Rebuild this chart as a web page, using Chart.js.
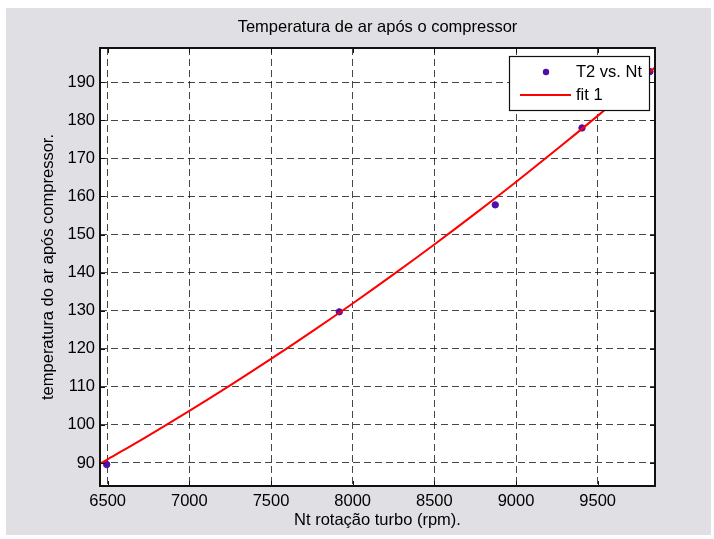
<!DOCTYPE html>
<html>
<head>
<meta charset="utf-8">
<script src="https://cdn.jsdelivr.net/npm/chart.js@4.4.1/dist/chart.umd.min.js"></script>
<style>
  html, body { margin: 0; padding: 0; background: #ffffff; }
  #wrap { width: 714px; height: 539px; }
</style>
</head>
<body>
<div id="wrap"><canvas id="c" width="714" height="539"></canvas></div>
<script>
// ---- data ----
const rpmMeasured = [6494, 7918, 8873, 9404, 9820];
const t2Measured  = [89.6, 129.7, 157.8, 178.0, 192.8];

const fitRpm = [6453, 6500, 6750, 7000, 7250, 7500, 7750, 8000, 8250, 8500, 8750, 9000, 9250, 9500, 9750, 9851];
const fitT2  = [89.8, 90.95, 97.2, 103.68, 110.38, 117.32, 124.5, 131.9, 139.54, 147.4, 155.5, 163.82, 172.38, 181.17, 190.19, 193.9];

const xTicks = [6500, 7000, 7500, 8000, 8500, 9000, 9500];
const yTicks = [90, 100, 110, 120, 130, 140, 150, 160, 170, 180, 190];

const titleText = 'Temperatura de ar após o compressor';
const xLabel = 'Nt rotação turbo (rpm).';
const yLabel = 'temperatura do ar após compressor.';
const seriesLabels = ['T2 vs. Nt', 'fit 1'];

const FONT = 'Liberation Sans, Arial, Helvetica, sans-serif';
const FS = 16.5;

const bgPlugin = {
  id: 'bg',
  beforeDraw(chart) {
    const ctx = chart.ctx, a = chart.chartArea;
    ctx.save();
    ctx.fillStyle = '#ffffff';
    ctx.fillRect(0, 0, chart.width, chart.height);
    ctx.fillStyle = '#dfdfe4';
    ctx.fillRect(6, 8, 705, 527);
    ctx.fillStyle = '#ffffff';
    ctx.fillRect(a.left, a.top, a.right - a.left, a.bottom - a.top);
    ctx.restore();
  }
};

const boxPlugin = {
  id: 'box',
  afterDatasetsDraw(chart) {
    const ctx = chart.ctx, a = chart.chartArea;
    const xs = chart.scales.x, ys = chart.scales.y;
    ctx.save();
    ctx.strokeStyle = '#111';
    ctx.lineWidth = 1;
    const tl = 5;
    ctx.beginPath();
    xTicks.forEach(v => {
      const px = Math.round(xs.getPixelForValue(v)) + 0.5;
      ctx.moveTo(px, a.bottom); ctx.lineTo(px, a.bottom - tl);
      ctx.moveTo(px, a.top); ctx.lineTo(px, a.top + tl);
    });
    yTicks.forEach(v => {
      const py = Math.round(ys.getPixelForValue(v)) + 0.5;
      ctx.moveTo(a.left, py); ctx.lineTo(a.left + tl, py);
      ctx.moveTo(a.right, py); ctx.lineTo(a.right - tl, py);
    });
    ctx.stroke();
    ctx.lineWidth = 2;
    ctx.strokeRect(a.left, a.top, a.right - a.left, a.bottom - a.top);

    // legend
    const lx = 509.5, ly = 56.5, lw = 140, lh = 54;
    ctx.fillStyle = '#ffffff';
    ctx.fillRect(lx, ly, lw, lh);
    ctx.lineWidth = 1.2;
    ctx.strokeStyle = '#111';
    ctx.strokeRect(lx, ly, lw, lh);
    const ds = chart.data.datasets;
    ctx.fillStyle = ds[0].backgroundColor;
    ctx.beginPath();
    ctx.arc(546, 72, 3.2, 0, Math.PI * 2);
    ctx.fill();
    ctx.strokeStyle = ds[1].borderColor;
    ctx.lineWidth = 2;
    ctx.beginPath();
    ctx.moveTo(520, 95); ctx.lineTo(571, 95);
    ctx.stroke();
    ctx.fillStyle = '#000';
    ctx.font = FS + 'px ' + FONT;
    ctx.textBaseline = 'middle';
    ctx.textAlign = 'left';
    ctx.fillText(ds[0].label, 576, 72);
    ctx.fillText(ds[1].label, 576, 95);
    ctx.restore();
  }
};

new Chart(document.getElementById('c'), {
  type: 'scatter',
  data: {
    datasets: [
      {
        label: seriesLabels[0],
        data: rpmMeasured.map((x, i) => ({ x, y: t2Measured[i] })),
        backgroundColor: '#5010a8',
        borderColor: '#5010a8',
        pointRadius: 3.2,
        showLine: false,
        order: 2
      },
      {
        label: seriesLabels[1],
        data: fitRpm.map((x, i) => ({ x, y: fitT2[i] })),
        borderColor: '#ff0000',
        backgroundColor: '#ff0000',
        borderWidth: 2,
        pointRadius: 0,
        showLine: true,
        tension: 0.4,
        order: 1
      }
    ]
  },
  options: {
    responsive: false,
    animation: false,
    devicePixelRatio: 1,
    layout: { padding: { left: 0, right: 59, top: 0, bottom: 0 } },
    plugins: {
      legend: { display: false },
      tooltip: { enabled: false },
      title: {
        display: true,
        text: titleText,
        fullSize: false,
        color: '#000',
        font: { family: FONT, size: FS, weight: 'normal', lineHeight: 1.2 },
        padding: { top: 17.5, bottom: 10.7 }
      }
    },
    scales: {
      x: {
        type: 'linear',
        min: 6453,
        max: 9851,
        afterBuildTicks: s => { s.ticks = xTicks.map(v => ({ value: v })); },
        afterFit: s => { s.height = 53; },
        grid: { display: true, drawOnChartArea: true, drawTicks: false, color: 'rgba(0,0,0,0.72)', lineWidth: 1 },
        border: { display: false, dash: [7, 4] },
        ticks: { color: '#000', padding: 6, font: { family: FONT, size: FS }, maxRotation: 0, autoSkip: false,
                 callback: v => String(v) },
        title: {
          display: true,
          text: xLabel,
          color: '#000',
          font: { family: FONT, size: FS, lineHeight: 1.2 },
          padding: { top: 0, bottom: 9 }
        }
      },
      y: {
        type: 'linear',
        min: 83.95,
        max: 199.0,
        afterBuildTicks: s => { s.ticks = yTicks.map(v => ({ value: v })); },
        afterFit: s => { s.width = 100; },
        grid: { display: true, drawOnChartArea: true, drawTicks: false, color: 'rgba(0,0,0,0.72)', lineWidth: 1 },
        border: { display: false, dash: [7, 4] },
        ticks: { color: '#000', padding: 5, font: { family: FONT, size: FS }, autoSkip: false,
                 callback: v => String(v) },
        title: {
          display: true,
          text: yLabel,
          color: '#000',
          font: { family: FONT, size: FS, lineHeight: 1.2 },
          padding: { top: 39, bottom: 0 }
        }
      }
    }
  },
  plugins: [bgPlugin, boxPlugin]
});
</script>
</body>
</html>
